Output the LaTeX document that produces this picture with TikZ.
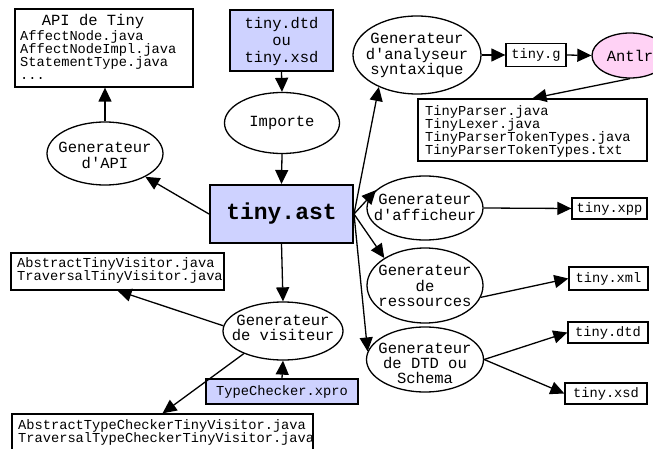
\documentclass[tikz,border=0pt]{standalone}
\usepackage{fontspec}
\setmonofont{Liberation Mono}
\usetikzlibrary{shapes.geometric,arrows.meta}
\definecolor{bluefill}{RGB}{206,210,255}
\definecolor{pinkfill}{RGB}{255,210,245}
\begin{document}
\begin{tikzpicture}[x=1pt,y=-1pt,
  edge/.style={line width=1.3pt,-{Triangle[length=14pt,width=13pt]}},
  filebox/.style={draw,line width=1.3pt,inner sep=0pt},
  gen/.style={draw,ellipse,line width=1.3pt,inner sep=0pt},
  smalltxt/.style={font=\ttfamily\fontsize{13.7}{13.3}\selectfont,align=left,inner sep=0pt},
  gentxt/.style={font=\ttfamily\fontsize{15.5}{15.5}\selectfont,align=center,inner sep=0pt}]
\clip (0,0) rectangle (653,449);
% API box
\node[filebox,minimum width=178pt,minimum height=78pt] (api) at (104,48) {};
\node[gentxt] (apit) at (93,21) {API de Tiny};
\node[smalltxt,anchor=west] (apil) at (20,55) {AffectNode.java\\AffectNodeImpl.java\\StatementType.java\\...};
% dtd input
\node[filebox,fill=bluefill,minimum width=103pt,minimum height=61pt] (dtd) at (281.5,40.5) {};
\node[gentxt,font=\ttfamily\fontsize{15.4}{17}\selectfont] (dtdt) at (281.5,42) {tiny.dtd\\ou\\tiny.xsd};
% Importe
\node[gen,minimum width=115pt,minimum height=61pt] (imp) at (282,123) {};
\node[gentxt] (impt) at (imp) {Importe};
% tiny.ast
\node[filebox,fill=bluefill,line width=2pt,minimum width=143pt,minimum height=58pt] (ast) at (281.5,214) {};
\node[font=\ttfamily\bfseries\fontsize{23}{23}\selectfont,inner sep=0pt] (astt) at (ast) {tiny.ast};
% Generateur d'API
\node[gen,minimum width=116pt,minimum height=63pt] (gapi) at (105,153.5) {};
\node[gentxt] (gapit) at (105,155.5) {Generateur\\d'API};
% Generateur d'analyseur syntaxique
\node[gen,minimum width=128pt,minimum height=78pt] (gana) at (417,55) {};
\node[gentxt] (ganat) at (417,55.5) {Generateur\\d'analyseur\\syntaxique};
\node[filebox,minimum width=60pt,minimum height=23pt] (tinyg) at (536,55) {};
\node[smalltxt] (tinygt) at (tinyg) {tiny.g};
\node[gen,fill=pinkfill,minimum width=76pt,minimum height=45pt] (antlr) at (630,55.5) {};
\node[gentxt] (antlrt) at (antlr) {Antlr};
\node[filebox,minimum width=229pt,minimum height=62pt] (tp) at (532.5,130) {};
\node[smalltxt,anchor=west] (tpt) at (425,131.5) {TinyParser.java\\TinyLexer.java\\TinyParserTokenTypes.java\\TinyParserTokenTypes.txt};
% Generateur d'afficheur
\node[gen,minimum width=116pt,minimum height=64pt] (gafi) at (425,208) {};
\node[gentxt] (gafit) at (425,207.5) {Generateur\\d'afficheur};
\node[filebox,minimum width=75pt,minimum height=21pt] (xpp) at (609.5,208.5) {};
\node[smalltxt] (xppt) at (xpp) {tiny.xpp};
% Generateur de ressources
\node[gen,minimum width=116pt,minimum height=75pt] (gres) at (425,285.5) {};
\node[gentxt] (grest) at (425,286) {Generateur\\de\\ressources};
\node[filebox,minimum width=79pt,minimum height=23pt] (xml) at (608.5,278.5) {};
\node[smalltxt] (xmlt) at (xml) {tiny.xml};
% Generateur de DTD ou Schema
\node[gen,minimum width=117pt,minimum height=65pt] (gdtd) at (425,359.5) {};
\node[gentxt,font=\ttfamily\fontsize{15.5}{15}\selectfont] (gdtdt) at (425,363) {Generateur\\de DTD ou\\Schema};
\node[filebox,minimum width=80pt,minimum height=21pt] (tdtd) at (608,332.5) {};
\node[smalltxt] (tdtdt) at (tdtd) {tiny.dtd};
\node[filebox,minimum width=82pt,minimum height=21pt] (txsd) at (606,393.5) {};
\node[smalltxt] (txsdt) at (txsd) {tiny.xsd};
% Generateur de visiteur
\node[gen,minimum width=120pt,minimum height=58pt] (gvis) at (283,331) {};
\node[gentxt] (gvist) at (283,328) {Generateur\\de visiteur};
\node[filebox,minimum width=213pt,minimum height=37pt] (atv) at (117.5,271.5) {};
\node[smalltxt,anchor=west] (atvt) at (17,270.5) {AbstractTinyVisitor.java\\TraversalTinyVisitor.java};
\node[filebox,fill=bluefill,minimum width=152pt,minimum height=25pt] (tc) at (282,391.5) {};
\node[smalltxt] (tct) at (tc) {TypeChecker.xpro};
\node[filebox,minimum width=301pt,minimum height=46pt] (atc) at (162.5,437) {};
\node[smalltxt,anchor=west] (atct) at (18,432.5) {AbstractTypeCheckerTinyVisitor.java\\TraversalTypeCheckerTinyVisitor.java};
% edges
\draw[edge] (dtd.south) -- (imp.north);
\draw[edge] (imp.south) -- (ast.north);
\draw[edge] (ast.west) -- (gapi.330);
\draw[edge] (gapi.north) -- (gapi.north |- api.south);
\draw[edge] (ast.east) -- (gana.220);
\draw[edge] (gana.east) -- (tinyg.west);
\draw[edge] (tinyg.east) -- (antlr.west);
\draw[edge] (antlr.south) -- (tp.north);
\draw[edge] (ast.east) -- (gafi.160);
\draw[edge] (gafi.east) -- (xpp.west);
\draw[edge] (ast.east) -- (gres.146);
\draw[edge] (gres.-12) -- (xml.west);
\draw[edge] (ast.east) -- (gdtd.172);
\draw[edge] (gdtd.east) -- (tdtd.west);
\draw[edge] (gdtd.east) -- (txsd.west);
\draw[edge] (ast.south) -- (gvis.north);
\draw[edge] (gvis.175) -- (atv.south);
\draw[edge] (gvis.210) -- (atc.north);
\draw[edge] (tc.north) -- (gvis.south);
\end{tikzpicture}
\end{document}
